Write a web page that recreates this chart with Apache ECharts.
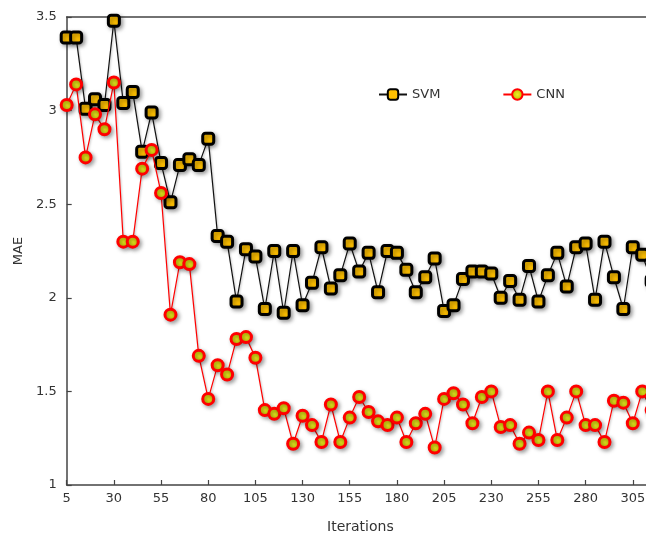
<!DOCTYPE html>
<html>
<head>
<meta charset="utf-8">
<script src="https://cdn.jsdelivr.net/npm/echarts@6/dist/echarts.min.js"></script>
<style>html,body{margin:0;padding:0;background:#fff;}#c{width:646px;height:534px;}</style>
</head>
<body>
<div id="c"></div>
<script>
const iterations = [5,10,15,20,25,30,35,40,45,50,55,60,65,70,75,80,85,90,95,100,105,110,115,120,125,130,135,140,145,150,155,160,165,170,175,180,185,190,195,200,205,210,215,220,225,230,235,240,245,250,255,260,265,270,275,280,285,290,295,300,305,310,315];
const svm = [3.39,3.39,3.01,3.06,3.03,3.48,3.04,3.10,2.78,2.99,2.72,2.51,2.71,2.74,2.71,2.85,2.33,2.30,1.98,2.26,2.22,1.94,2.25,1.92,2.25,1.96,2.08,2.27,2.05,2.12,2.29,2.14,2.24,2.03,2.25,2.24,2.15,2.03,2.11,2.21,1.93,1.96,2.10,2.14,2.14,2.13,2.00,2.09,1.99,2.17,1.98,2.12,2.24,2.06,2.27,2.29,1.99,2.30,2.11,1.94,2.27,2.23,2.09];
const cnn = [3.03,3.14,2.75,2.98,2.90,3.15,2.30,2.30,2.69,2.79,2.56,1.91,2.19,2.18,1.69,1.46,1.64,1.59,1.78,1.79,1.68,1.40,1.38,1.41,1.22,1.37,1.32,1.23,1.43,1.23,1.36,1.47,1.39,1.34,1.32,1.36,1.23,1.33,1.38,1.20,1.46,1.49,1.43,1.33,1.47,1.50,1.31,1.32,1.22,1.28,1.24,1.50,1.24,1.36,1.50,1.32,1.32,1.23,1.45,1.44,1.33,1.50,1.40];
const seriesNames = ['SVM','CNN'];
const yTicks = {min: 1, max: 3.5, step: 0.5};
const xTicks = {min: 5, max: 312, step: 25};

const font = 'DejaVu Sans';
const chart = echarts.init(document.getElementById('c'), null, {renderer: 'canvas'});
const shadow = {shadowBlur: 4, shadowColor: 'rgba(0,0,0,0.35)', shadowOffsetX: 2, shadowOffsetY: 2};
chart.setOption({
  animation: false,
  backgroundColor: '#fff',
  grid: {left: 66.7, top: 17, right: 0, bottom: 49, show: false, containLabel: false, outerBoundsMode: 'none'},
  legend: {
    left: 373, top: 83, itemWidth: 28, itemHeight: 13, itemGap: 62,
    data: seriesNames,
    textStyle: {fontFamily: font, fontSize: 13, color: '#333'}
  },
  xAxis: [{
    type: 'value', min: xTicks.min, max: xTicks.max, interval: xTicks.step,
    name: 'Iterations', nameLocation: 'middle', nameGap: 35,
    nameTextStyle: {fontFamily: font, fontSize: 14, color: '#333', padding: [0, 0, 0, 8]},
    axisLine: {show: true, lineStyle: {color: '#444', width: 1.5}},
    axisTick: {show: true, inside: true, length: 5, lineStyle: {color: '#444', width: 1.2}},
    axisLabel: {fontFamily: font, fontSize: 13, color: '#333', margin: 7, showMaxLabel: false},
    splitLine: {show: false}
  }, {
    type: 'value', position: 'top', min: xTicks.min, max: xTicks.max,
    axisLine: {show: true, lineStyle: {color: '#444', width: 1.5}},
    axisTick: {show: false}, axisLabel: {show: false}, splitLine: {show: false}
  }],
  yAxis: {
    type: 'value', min: yTicks.min, max: yTicks.max, interval: yTicks.step,
    name: 'MAE', nameLocation: 'middle', nameGap: 42, nameRotate: 90,
    nameTextStyle: {fontFamily: font, fontSize: 13, color: '#333'},
    axisLine: {show: true, lineStyle: {color: '#444', width: 1.5}},
    axisTick: {show: true, inside: true, length: 5, lineStyle: {color: '#444', width: 1.2}},
    axisLabel: {fontFamily: font, fontSize: 13, color: '#333', margin: 10},
    splitLine: {show: false}
  },
  series: [
    {
      name: seriesNames[0], type: 'line', clip: false,
      data: iterations.map((x, i) => [x, svm[i]]),
      symbol: 'roundRect', symbolSize: 11,
      lineStyle: {color: '#111', width: 1.2, shadowBlur: 2, shadowColor: 'rgba(0,0,0,0.25)', shadowOffsetX: 1, shadowOffsetY: 1},
      itemStyle: Object.assign({color: '#FFC000', borderColor: '#000', borderWidth: 3}, shadow),
      z: 2
    },
    {
      name: seriesNames[1], type: 'line', clip: false,
      data: iterations.map((x, i) => [x, cnn[i]]),
      symbol: 'circle', symbolSize: 11,
      lineStyle: {color: '#ff0000', width: 1.2, shadowBlur: 2, shadowColor: 'rgba(0,0,0,0.25)', shadowOffsetX: 1, shadowOffsetY: 1},
      itemStyle: Object.assign({
        color: {type: 'radial', x: 0.5, y: 0.5, r: 0.5, colorStops: [{offset: 0, color: '#eeee20'}, {offset: 1, color: '#b8b800'}]},
        borderColor: '#ff0000', borderWidth: 3
      }, shadow),
      z: 3
    }
  ]
});
</script>
</body>
</html>
